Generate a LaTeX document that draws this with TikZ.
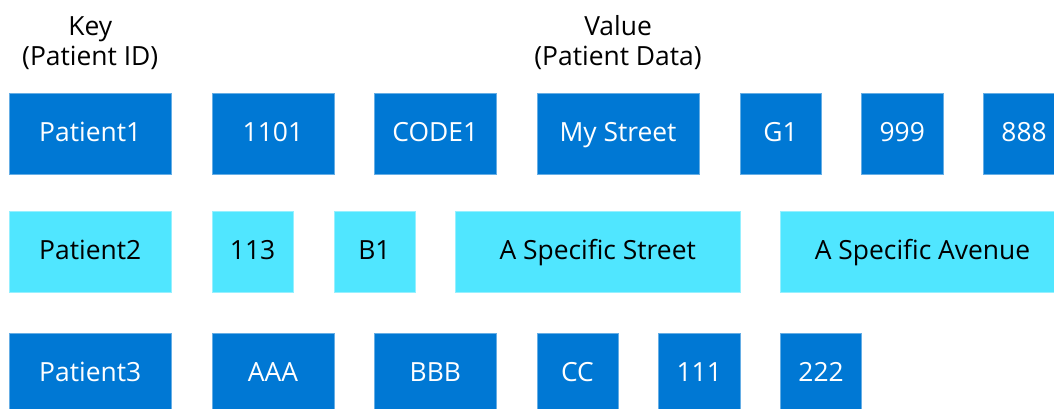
\documentclass[tikz,border=0pt]{standalone}
\usepackage{fontspec}
\setmainfont{Open Sans}
\usetikzlibrary{positioning}
\definecolor{azure}{HTML}{0078D4}
\definecolor{cyanlt}{HTML}{50E6FF}

\tikzset{
  cell/.style={anchor=north west, inner sep=0pt, outer sep=0pt, minimum height=2cm,
    text height=16pt, text depth=4.6pt,
    line width=0.3pt, font=\fontsize{18.5}{22}\selectfont},
  dark/.style={cell, fill=azure, draw=azure!60!white, text=white},
  light/.style={cell, fill=cyanlt, draw=cyanlt!60!white, text=black},
  head/.style={align=center, inner sep=0pt, font=\fontsize{18.5}{21}\selectfont},
}

\begin{document}
\begin{tikzpicture}[y=-1cm]
\useasboundingbox (0,0) rectangle (25.96,10.07);
\clip (0,0) rectangle (25.96,10.07);

% Patient1 row
\node[dark, minimum width=4cm] (p1) at (0.222,2.29) {Patient1};
\node[dark, minimum width=3cm] (a1) at (5.222,2.29) {1101};
\node[dark, minimum width=3cm] (a2) at (9.222,2.29) {CODE1};
\node[dark, minimum width=4cm] (a3) at (13.222,2.29) {My Street};
\node[dark, minimum width=2cm] (a4) at (18.222,2.29) {G1};
\node[dark, minimum width=2cm] (a5) at (21.222,2.29) {999};
\node[dark, minimum width=2cm] (a6) at (24.222,2.29) {888};

% Patient2 row
\node[light, minimum width=4cm] (p2) at (0.222,5.197) {Patient2};
\node[light, minimum width=2cm] (b1) at (5.222,5.197) {113};
\node[light, minimum width=2cm] (b2) at (8.222,5.197) {B1};
\node[light, minimum width=7cm] (b3) at (11.222,5.197) {A Specific Street};
\node[light, minimum width=7cm] (b4) at (19.222,5.197) {A Specific Avenue};

% Patient3 row
\node[dark, minimum width=4cm] (p3) at (0.222,8.2) {Patient3};
\node[dark, minimum width=3cm] (c1) at (5.222,8.2) {AAA};
\node[dark, minimum width=3cm] (c2) at (9.222,8.2) {BBB};
\node[dark, minimum width=2cm] (c3) at (13.222,8.2) {CC};
\node[dark, minimum width=2cm] (c4) at (16.222,8.2) {111};
\node[dark, minimum width=2cm] (c5) at (19.222,8.2) {222};

% Headers
\node[head, above=0.57cm of p1] (key) {Key\\(Patient ID)};
\node[head, above=0.57cm of a3] (value) {Value\\(Patient Data)};
\end{tikzpicture}
\end{document}
